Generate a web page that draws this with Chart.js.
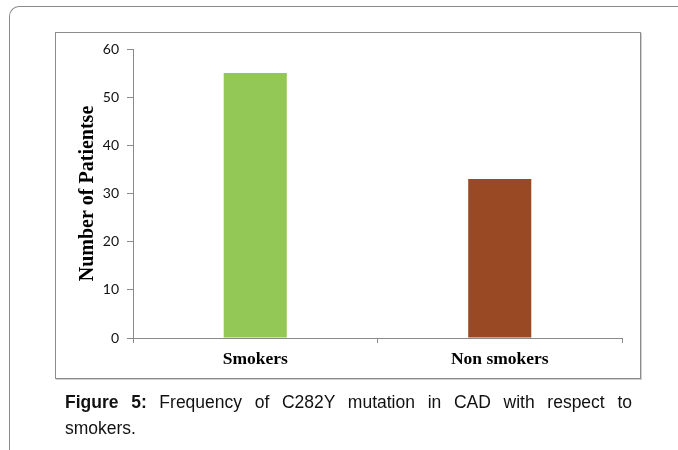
<!DOCTYPE html>
<html>
<head>
<meta charset="utf-8">
<script src="https://cdn.jsdelivr.net/npm/chart.js@4/dist/chart.umd.min.js"></script>
<style>
  html, body { margin: 0; padding: 0; background: #fff; }
  #wrap { position: relative; width: 678px; height: 450px; overflow: hidden; }
  /* outer page frame */
  #frame {
    position: absolute; left: 9px; top: 6px; width: 700px; height: 500px;
    border-left: 1px solid #8a8a8a; border-top: 1px solid #8a8a8a;
    border-top-left-radius: 10px;
  }
  /* chart box */
  #box {
    position: absolute; left: 55px; top: 32px; width: 584px; height: 345px;
    border: 1px solid #8c8c8c; box-shadow: 1px 1px 0 #d0d0d0;
  }
  #c { position: absolute; left: 0; top: 0; }
  #cap {
    position: absolute; left: 65px; top: 389px; width: 567px;
    font: 17.5px "Liberation Sans", Arial, sans-serif; line-height: 26px; color: #111;
  }
  #cap .l1 { text-align: justify; text-align-last: justify; }
</style>
</head>
<body>
<div id="wrap">
  <div id="frame"></div>
  <div id="box"></div>
  <canvas id="c" width="678" height="450"></canvas>
  <div id="cap">
    <div class="l1"><b>Figure 5:</b> Frequency of C282Y mutation in CAD with respect to</div>
    <div>smokers.</div>
  </div>
</div>
<script>
// ── Data ──
const categories = ['Smokers', 'Non smokers'];
const patients   = [55, 33];
const barColors  = ['#93C857', '#994A24'];
const yTicks     = [0, 10, 20, 30, 40, 50, 60];

const axisGray = '#8a8a8a';

new Chart(document.getElementById('c'), {
  type: 'bar',
  data: {
    labels: categories,
    datasets: [{
      data: patients,
      backgroundColor: barColors,
      borderWidth: 0,
      categoryPercentage: 1,
      barPercentage: 0.258,
    }],
  },
  options: {
    responsive: false, animation: false,
    layout: { padding: { left: 72, right: 56, top: 49, bottom: 72 } },
    plugins: { legend: { display: false }, tooltip: { enabled: false } },
    scales: {
      x: {
        offset: true,
        grid: { offset: true, drawOnChartArea: false, drawTicks: true, tickLength: 5, color: axisGray },
        border: { display: true, color: axisGray },
        ticks: { color: '#000', padding: 6, font: { family: '"Liberation Serif", "Times New Roman", serif', size: 17.5, weight: 'bold' } },
        afterFit: s => { s.height = 40; },
      },
      y: {
        min: yTicks[0], max: yTicks[yTicks.length - 1],
        afterBuildTicks: s => { s.ticks = yTicks.map(v => ({ value: v })); },
        grid: { drawOnChartArea: false, drawTicks: true, tickLength: 6, color: axisGray },
        border: { display: true, color: axisGray },
        ticks: { color: '#111', padding: 8, font: { family: 'Lato, "Liberation Sans", sans-serif', size: 14 } },
        title: {
          display: true, text: 'Number of Patientse', color: '#000',
          font: { family: '"Liberation Serif", "Times New Roman", serif', size: 20, weight: 'bold' },
        },
        afterFit: s => { s.width = 61; },
      },
    },
  },
});
</script>
</body>
</html>
